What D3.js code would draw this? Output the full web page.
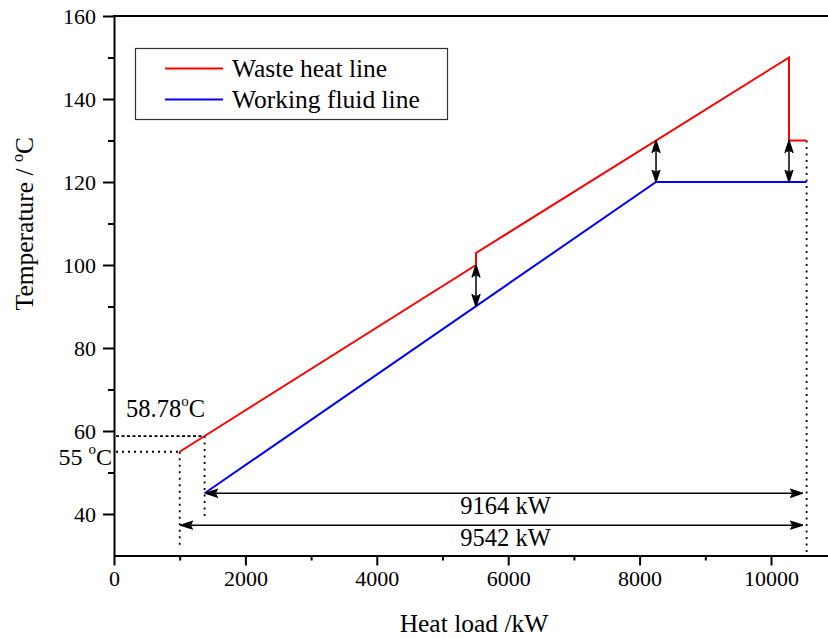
<!DOCTYPE html>
<html>
<head>
<meta charset="utf-8">
<script src="https://cdn.jsdelivr.net/npm/d3@7"></script>
<style>
  html, body { margin: 0; padding: 0; background: #fff; }
  svg text { font-family: "Liberation Serif", "Times New Roman", Times, serif !important; fill: #000; }
</style>
</head>
<body>
<svg id="chart" width="828" height="639"></svg>
<script>
// Waste heat (hot side) temperature profile
const wasteLoad = [1000, 5510, 5510, 10274, 10274, 10542];
const wasteTemp = [55, 100, 102.9, 150, 130, 130];

// Working fluid (cold side) temperature profile
const fluidLoad = [1379, 8250, 10542];
const fluidTemp = [45, 120, 120];

// Temperature differences shown with double arrows
const pinchLoad = [5510, 8250, 10274];
const pinchLow = [90, 120, 120];
const pinchHigh = [100, 130, 130];

// Heat duty spans
const dutyLabels = ["9164 kW", "9542 kW"];
const dutyStart = [1379, 1000];
const dutyEnd = [10542, 10542];
const dutyTemp = [45, 37.3];

// Axis ticks
const xMajor = [0, 2000, 4000, 6000, 8000, 10000];
const xMinor = [1000, 3000, 5000, 7000, 9000, 11000];
const yMajor = [40, 60, 80, 100, 120, 140, 160];
const yMinor = [50, 70, 90, 110, 130, 150];

const svg = d3.select("#chart");

const x = d3.scaleLinear().domain([0, 11000]).range([114, 836.7]);
const y = d3.scaleLinear().domain([30, 160]).range([555.5, 16]);

// arrow head
const defs = svg.append("defs");
defs.append("marker")
  .attr("id", "head")
  .attr("viewBox", "0 0 13 10")
  .attr("refX", 12.5).attr("refY", 5)
  .attr("markerWidth", 13).attr("markerHeight", 10)
  .attr("markerUnits", "userSpaceOnUse")
  .attr("orient", "auto-start-reverse")
  .append("path")
  .attr("d", "M0,1 L12.5,5 L0,9 M2,5 L12.5,5 M1,3 L12.5,5 L1,7")
  .attr("fill", "none").attr("stroke", "#000").attr("stroke-width", 1.4);

// axes
const axisFont = 22;
const gx = svg.append("g").attr("transform", `translate(0,${y(30)})`)
  .call(d3.axisBottom(x).tickValues(xMajor).tickSize(10).tickSizeOuter(0).tickPadding(5).tickFormat(d3.format("d")));
gx.select(".domain").attr("stroke-width", 2);
gx.selectAll(".tick line").attr("stroke-width", 2);
gx.selectAll(".tick text").attr("font-size", axisFont);
svg.append("g").attr("transform", `translate(0,${y(30)})`)
  .call(d3.axisBottom(x).tickValues(xMinor).tickSize(5).tickSizeOuter(0).tickFormat(""))
  .call(g => g.select(".domain").remove())
  .selectAll(".tick line").attr("stroke-width", 2);

const gy = svg.append("g").attr("transform", `translate(${x(0)},0)`)
  .call(d3.axisLeft(y).tickValues(yMajor).tickSize(11).tickSizeOuter(0).tickPadding(7));
gy.select(".domain").attr("stroke-width", 2);
gy.selectAll(".tick line").attr("stroke-width", 2);
gy.selectAll(".tick text").attr("font-size", axisFont);
svg.append("g").attr("transform", `translate(${x(0)},0)`)
  .call(d3.axisLeft(y).tickValues(yMinor).tickSize(6).tickSizeOuter(0).tickFormat(""))
  .call(g => g.select(".domain").remove())
  .selectAll(".tick line").attr("stroke-width", 2);

// top frame
svg.append("line")
  .attr("x1", x(0) - 1).attr("x2", 828)
  .attr("y1", y(160)).attr("y2", y(160))
  .attr("stroke", "#000").attr("stroke-width", 2);

// axis titles
svg.append("text")
  .attr("x", 474).attr("y", 632)
  .attr("text-anchor", "middle").attr("font-size", 25.5)
  .text("Heat load /kW");

const yt = svg.append("text")
  .attr("transform", `translate(33,${(y(30) + y(160)) / 2 - 62}) rotate(-90)`)
  .attr("text-anchor", "middle").attr("font-size", 25.5);
yt.append("tspan").text("Temperature / ");
yt.append("tspan").attr("font-size", 16).attr("dy", -10).text("o");
yt.append("tspan").attr("dy", 10).text("C");

// guide lines (dotted)
function guide(x1, y1, x2, y2, dash) {
  svg.append("line")
    .attr("x1", x1).attr("y1", y1).attr("x2", x2).attr("y2", y2)
    .attr("stroke", "#000").attr("stroke-width", 1.8)
    .attr("stroke-dasharray", dash).attr("stroke-linecap", "butt");
}
guide(x(0) + 2, y(wasteTemp[0]), x(wasteLoad[0]), y(wasteTemp[0]), "2,4");
guide(x(0) + 2, y(58.78), x(fluidLoad[0]), y(58.78), "3,2.5");
guide(x(wasteLoad[0]), y(wasteTemp[0]), x(wasteLoad[0]), y(32.3), "2,4.5");
guide(x(fluidLoad[0]), y(58.78), x(fluidLoad[0]), y(38.6), "2,4.5");
guide(x(wasteLoad[5]), y(wasteTemp[5]), x(wasteLoad[5]), y(30), "2,4.5");

// profiles
const line = d3.line().x(d => x(d[0])).y(d => y(d[1]));
svg.append("path")
  .datum(wasteLoad.map((v, i) => [v, wasteTemp[i]]))
  .attr("d", line).attr("fill", "none").attr("stroke", "#ff0000").attr("stroke-width", 2);
svg.append("path")
  .datum(fluidLoad.map((v, i) => [v, fluidTemp[i]]))
  .attr("d", line).attr("fill", "none").attr("stroke", "#0000ff").attr("stroke-width", 2);

// temperature difference arrows
pinchLoad.forEach((v, i) => {
  svg.append("line")
    .attr("x1", x(v)).attr("x2", x(v))
    .attr("y1", y(pinchLow[i])).attr("y2", y(pinchHigh[i]))
    .attr("stroke", "#000").attr("stroke-width", 1.5)
    .attr("marker-start", "url(#head)").attr("marker-end", "url(#head)");
});

// heat duty arrows and labels
const labelX = x((dutyStart[0] + dutyEnd[0]) / 2);
dutyLabels.forEach((lab, i) => {
  svg.append("line")
    .attr("x1", x(dutyStart[i]) + 1).attr("x2", x(dutyEnd[i]) - 4)
    .attr("y1", y(dutyTemp[i])).attr("y2", y(dutyTemp[i]))
    .attr("stroke", "#000").attr("stroke-width", 1.5)
    .attr("marker-start", "url(#head)").attr("marker-end", "url(#head)");
  svg.append("text")
    .attr("x", labelX).attr("y", y(dutyTemp[i]) + 21)
    .attr("text-anchor", "middle").attr("font-size", 24.5)
    .text(lab);
});

// temperature annotations
const t1 = svg.append("text").attr("x", 126).attr("y", 417).attr("font-size", 24.5);
t1.append("tspan").text("58.78");
t1.append("tspan").attr("font-size", 15).attr("dy", -11).text("o");
t1.append("tspan").attr("dy", 11).text("C");

const t2 = svg.append("text").attr("x", 112).attr("y", 465).attr("text-anchor", "end").attr("font-size", 24);
t2.append("tspan").text("55 ");
t2.append("tspan").attr("font-size", 15).attr("dy", -11).text("o");
t2.append("tspan").attr("dy", 11).text("C");

// legend
const lg = svg.append("g");
lg.append("rect")
  .attr("x", 135.5).attr("y", 48.5).attr("width", 312).attr("height", 71)
  .attr("fill", "#fff").attr("stroke", "#333").attr("stroke-width", 1.2);
const legendItems = ["Waste heat line", "Working fluid line"];
const legendColors = ["#ff0000", "#0000ff"];
legendItems.forEach((name, i) => {
  const yy = 68.5 + i * 31;
  lg.append("line").attr("x1", 165).attr("x2", 223).attr("y1", yy).attr("y2", yy)
    .attr("stroke", legendColors[i]).attr("stroke-width", 2);
  lg.append("text").attr("x", 232).attr("y", yy + 8.5).attr("font-size", 25.5).text(name);
});
</script>
</body>
</html>
